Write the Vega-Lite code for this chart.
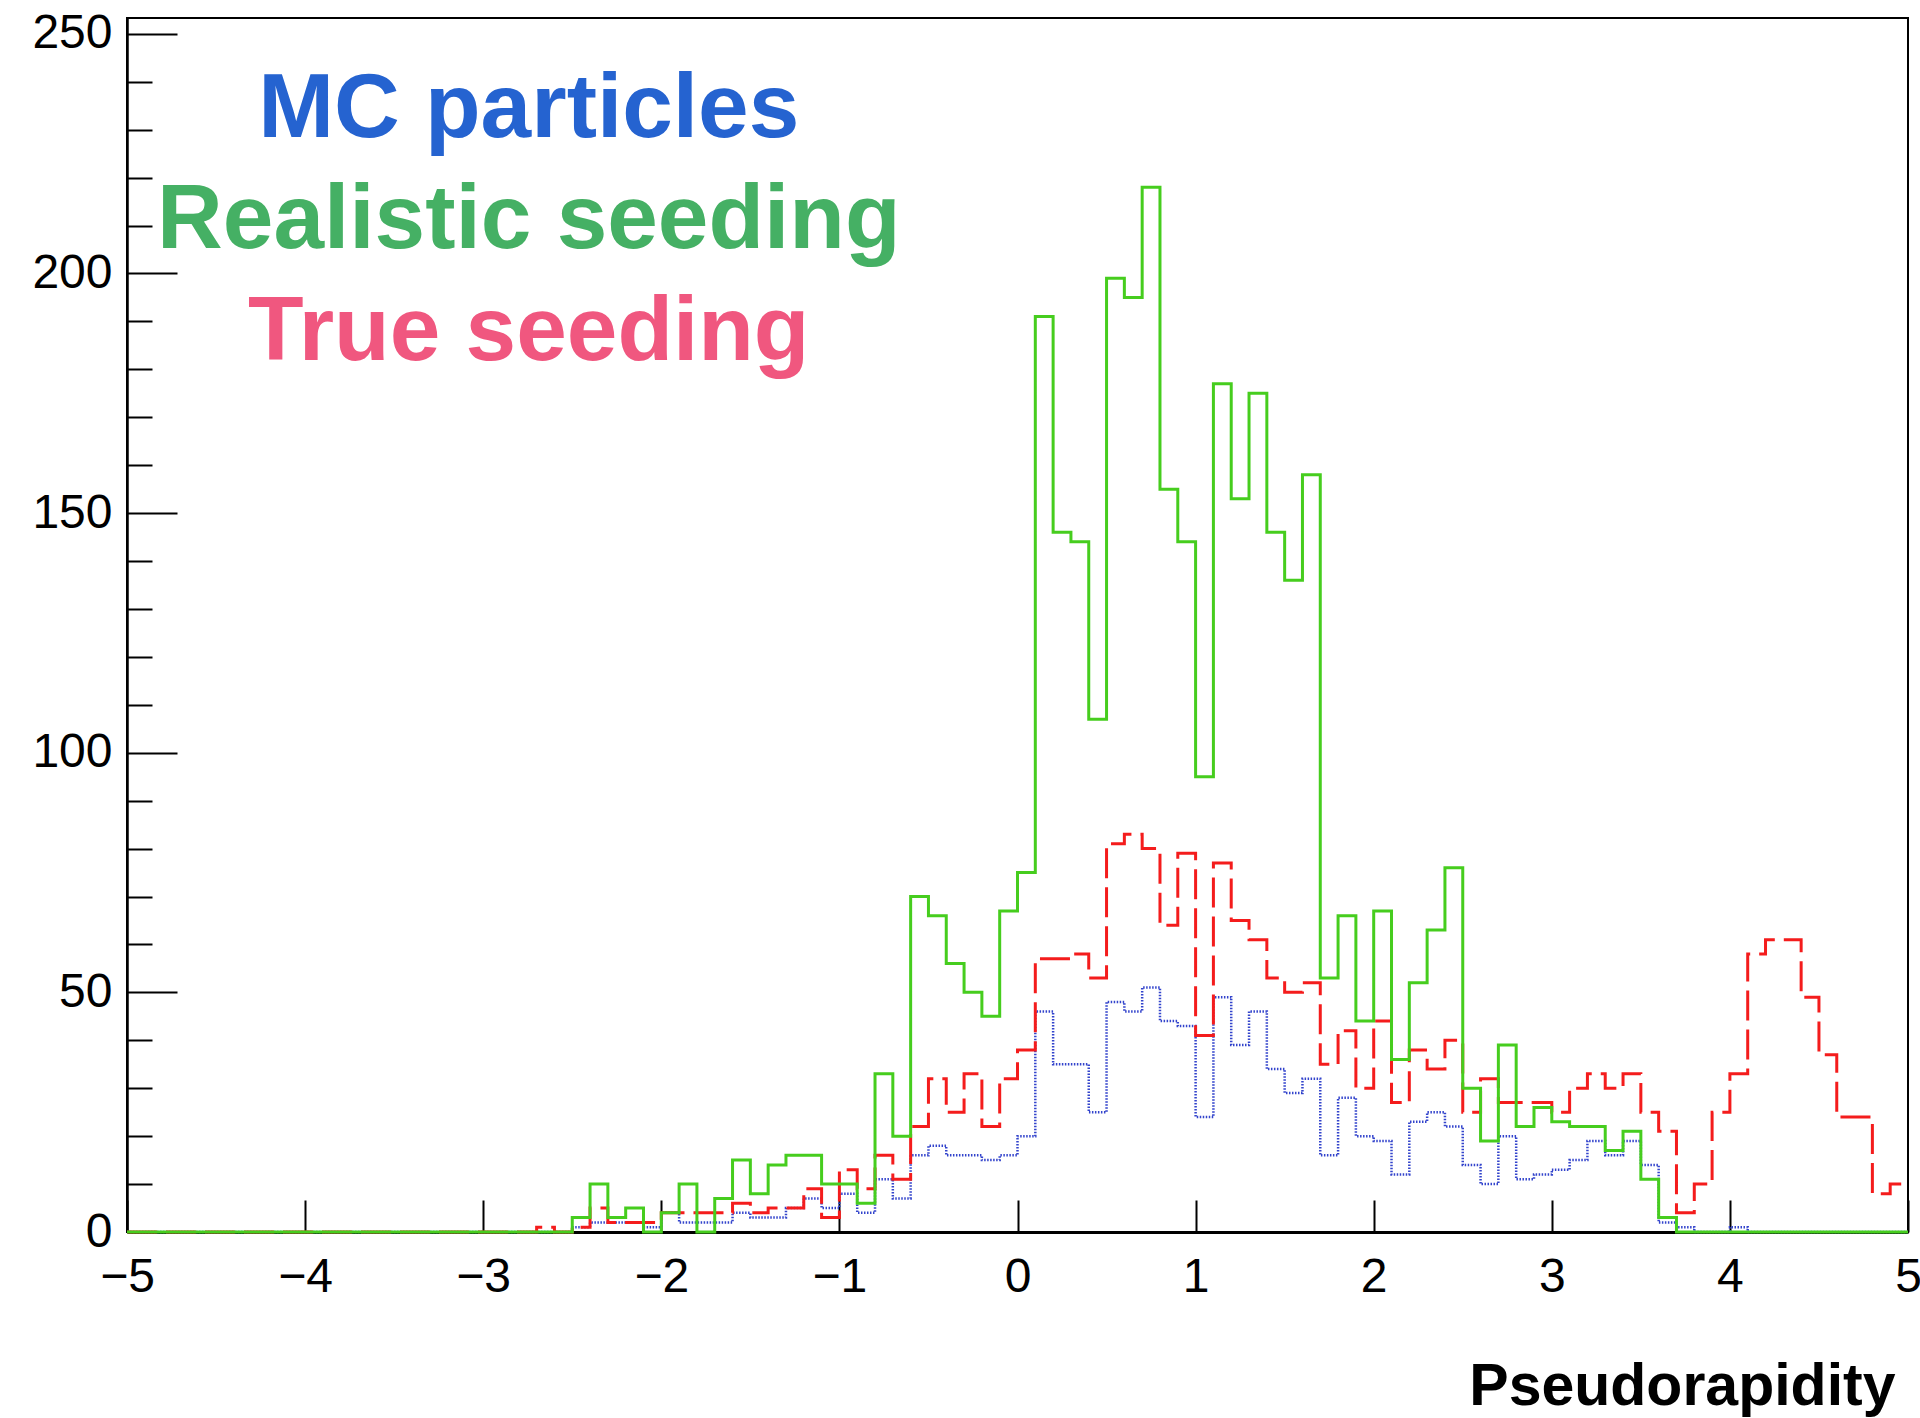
{
  "$schema": "https://vega.github.io/schema/vega-lite/v6.json",
  "width": 1781,
  "height": 1214,
  "autosize": {"type": "none"},
  "padding": {"left": 127, "top": 18, "right": 12, "bottom": 186},
  "background": "white",
  "config": {
    "view": {"stroke": "black", "strokeWidth": 2},
    "font": "Liberation Sans"
  },
  "data": {
    "values": [
      {"eta": -5.0, "mc": 0, "realistic": 0, "truth": 0},
      {"eta": -4.9, "mc": 0, "realistic": 0, "truth": 0},
      {"eta": -4.8, "mc": 0, "realistic": 0, "truth": 0},
      {"eta": -4.7, "mc": 0, "realistic": 0, "truth": 0},
      {"eta": -4.6, "mc": 0, "realistic": 0, "truth": 0},
      {"eta": -4.5, "mc": 0, "realistic": 0, "truth": 0},
      {"eta": -4.4, "mc": 0, "realistic": 0, "truth": 0},
      {"eta": -4.3, "mc": 0, "realistic": 0, "truth": 0},
      {"eta": -4.2, "mc": 0, "realistic": 0, "truth": 0},
      {"eta": -4.1, "mc": 0, "realistic": 0, "truth": 0},
      {"eta": -4.0, "mc": 0, "realistic": 0, "truth": 0},
      {"eta": -3.9, "mc": 0, "realistic": 0, "truth": 0},
      {"eta": -3.8, "mc": 0, "realistic": 0, "truth": 0},
      {"eta": -3.7, "mc": 0, "realistic": 0, "truth": 0},
      {"eta": -3.6, "mc": 0, "realistic": 0, "truth": 0},
      {"eta": -3.5, "mc": 0, "realistic": 0, "truth": 0},
      {"eta": -3.4, "mc": 0, "realistic": 0, "truth": 0},
      {"eta": -3.3, "mc": 0, "realistic": 0, "truth": 0},
      {"eta": -3.2, "mc": 0, "realistic": 0, "truth": 0},
      {"eta": -3.1, "mc": 0, "realistic": 0, "truth": 0},
      {"eta": -3.0, "mc": 0, "realistic": 0, "truth": 0},
      {"eta": -2.9, "mc": 0, "realistic": 0, "truth": 0},
      {"eta": -2.8, "mc": 0, "realistic": 0, "truth": 0},
      {"eta": -2.7, "mc": 0, "realistic": 0, "truth": 1},
      {"eta": -2.6, "mc": 0, "realistic": 0, "truth": 0},
      {"eta": -2.5, "mc": 1, "realistic": 3, "truth": 1},
      {"eta": -2.4, "mc": 2, "realistic": 10, "truth": 5},
      {"eta": -2.3, "mc": 2, "realistic": 3, "truth": 2},
      {"eta": -2.2, "mc": 2, "realistic": 5, "truth": 2},
      {"eta": -2.1, "mc": 1, "realistic": 0, "truth": 2},
      {"eta": -2.0, "mc": 4, "realistic": 4, "truth": 4},
      {"eta": -1.9, "mc": 2, "realistic": 10, "truth": 4},
      {"eta": -1.8, "mc": 2, "realistic": 0, "truth": 4},
      {"eta": -1.7, "mc": 2, "realistic": 7, "truth": 4},
      {"eta": -1.6, "mc": 4, "realistic": 15, "truth": 6},
      {"eta": -1.5, "mc": 3, "realistic": 8, "truth": 4},
      {"eta": -1.4, "mc": 3, "realistic": 14, "truth": 5},
      {"eta": -1.3, "mc": 5, "realistic": 16, "truth": 5},
      {"eta": -1.2, "mc": 7, "realistic": 16, "truth": 9},
      {"eta": -1.1, "mc": 5, "realistic": 10, "truth": 3},
      {"eta": -1.0, "mc": 8, "realistic": 10, "truth": 13},
      {"eta": -0.9, "mc": 4, "realistic": 6, "truth": 9},
      {"eta": -0.8, "mc": 11, "realistic": 33, "truth": 16},
      {"eta": -0.7, "mc": 7, "realistic": 20, "truth": 11},
      {"eta": -0.6, "mc": 16, "realistic": 70, "truth": 22},
      {"eta": -0.5, "mc": 18, "realistic": 66, "truth": 32},
      {"eta": -0.4, "mc": 16, "realistic": 56, "truth": 25},
      {"eta": -0.3, "mc": 16, "realistic": 50, "truth": 33},
      {"eta": -0.2, "mc": 15, "realistic": 45, "truth": 22},
      {"eta": -0.1, "mc": 16, "realistic": 67, "truth": 32},
      {"eta": 0.0, "mc": 20, "realistic": 75, "truth": 38},
      {"eta": 0.1, "mc": 46, "realistic": 191, "truth": 57},
      {"eta": 0.2, "mc": 35, "realistic": 146, "truth": 57},
      {"eta": 0.3, "mc": 35, "realistic": 144, "truth": 58},
      {"eta": 0.4, "mc": 25, "realistic": 107, "truth": 53},
      {"eta": 0.5, "mc": 48, "realistic": 199, "truth": 81},
      {"eta": 0.6, "mc": 46, "realistic": 195, "truth": 83},
      {"eta": 0.7, "mc": 51, "realistic": 218, "truth": 80},
      {"eta": 0.8, "mc": 44, "realistic": 155, "truth": 64},
      {"eta": 0.9, "mc": 43, "realistic": 144, "truth": 79},
      {"eta": 1.0, "mc": 24, "realistic": 95, "truth": 41},
      {"eta": 1.1, "mc": 49, "realistic": 177, "truth": 77},
      {"eta": 1.2, "mc": 39, "realistic": 153, "truth": 65},
      {"eta": 1.3, "mc": 46, "realistic": 175, "truth": 61},
      {"eta": 1.4, "mc": 34, "realistic": 146, "truth": 53},
      {"eta": 1.5, "mc": 29, "realistic": 136, "truth": 50},
      {"eta": 1.6, "mc": 32, "realistic": 158, "truth": 52},
      {"eta": 1.7, "mc": 16, "realistic": 53, "truth": 35},
      {"eta": 1.8, "mc": 28, "realistic": 66, "truth": 42},
      {"eta": 1.9, "mc": 20, "realistic": 44, "truth": 30},
      {"eta": 2.0, "mc": 19, "realistic": 67, "truth": 44},
      {"eta": 2.1, "mc": 12, "realistic": 36, "truth": 27},
      {"eta": 2.2, "mc": 23, "realistic": 52, "truth": 38},
      {"eta": 2.3, "mc": 25, "realistic": 63, "truth": 34},
      {"eta": 2.4, "mc": 22, "realistic": 76, "truth": 40},
      {"eta": 2.5, "mc": 14, "realistic": 30, "truth": 25},
      {"eta": 2.6, "mc": 10, "realistic": 19, "truth": 32},
      {"eta": 2.7, "mc": 20, "realistic": 39, "truth": 27},
      {"eta": 2.8, "mc": 11, "realistic": 22, "truth": 27},
      {"eta": 2.9, "mc": 12, "realistic": 26, "truth": 27},
      {"eta": 3.0, "mc": 13, "realistic": 23, "truth": 25},
      {"eta": 3.1, "mc": 15, "realistic": 22, "truth": 30},
      {"eta": 3.2, "mc": 19, "realistic": 22, "truth": 33},
      {"eta": 3.3, "mc": 16, "realistic": 17, "truth": 30},
      {"eta": 3.4, "mc": 19, "realistic": 21, "truth": 33},
      {"eta": 3.5, "mc": 14, "realistic": 11, "truth": 25},
      {"eta": 3.6, "mc": 2, "realistic": 3, "truth": 21},
      {"eta": 3.7, "mc": 1, "realistic": 0, "truth": 4},
      {"eta": 3.8, "mc": 0, "realistic": 0, "truth": 10},
      {"eta": 3.9, "mc": 0, "realistic": 0, "truth": 25},
      {"eta": 4.0, "mc": 1, "realistic": 0, "truth": 33},
      {"eta": 4.1, "mc": 0, "realistic": 0, "truth": 58},
      {"eta": 4.2, "mc": 0, "realistic": 0, "truth": 61},
      {"eta": 4.3, "mc": 0, "realistic": 0, "truth": 61},
      {"eta": 4.4, "mc": 0, "realistic": 0, "truth": 49},
      {"eta": 4.5, "mc": 0, "realistic": 0, "truth": 37},
      {"eta": 4.6, "mc": 0, "realistic": 0, "truth": 24},
      {"eta": 4.7, "mc": 0, "realistic": 0, "truth": 24},
      {"eta": 4.8, "mc": 0, "realistic": 0, "truth": 8},
      {"eta": 4.9, "mc": 0, "realistic": 0, "truth": 10},
      {"eta": 5.0, "mc": 0, "realistic": 0, "truth": 10}
    ]
  },
  "encoding": {
    "x": {
      "field": "eta",
      "type": "quantitative",
      "scale": {"domain": [-5, 5], "nice": false, "zero": false},
      "axis": {
        "tickCount": 50,
        "format": "d",
        "labelExpr": "abs(datum.value - round(datum.value)) < 0.001 ? datum.label : ''",
        "tickSize": {"condition": {"test": "abs(datum.value - round(datum.value)) < 0.001", "value": -32}, "value": -16},
        "tickColor": "black",
        "tickWidth": 2,
        "domainColor": "black",
        "domainWidth": 3,
        "grid": false,
        "labelFont": "Liberation Sans",
        "labelFontSize": 48,
        "labelColor": "black",
        "labelPadding": 53,
        "labelFlush": false,
        "labelOverlap": false,
        "title": "Pseudorapidity",
        "titleFont": "Liberation Sans",
        "titleFontSize": 59,
        "titleFontWeight": "bold",
        "titleColor": "black",
        "titleAlign": "right",
        "titleAnchor": "end",
        "titleBaseline": "alphabetic",
        "titleX": 1768,
        "titleY": 172
      }
    }
  },
  "layer": [
    {
      "mark": {"type": "line", "interpolate": "step-after", "color": "#3344cc", "strokeWidth": 2.5, "strokeDash": [1.5, 1.5]},
      "encoding": {
        "y": {
          "field": "mc",
          "type": "quantitative",
          "scale": {"domain": [0, 253.3], "nice": false, "zero": true},
          "axis": {
            "values": [0, 10, 20, 30, 40, 50, 60, 70, 80, 90, 100, 110, 120, 130, 140, 150, 160, 170, 180, 190, 200, 210, 220, 230, 240, 250],
            "tickCount": 200,
            "labelExpr": "datum.value % 50 === 0 ? datum.label : ''",
            "tickSize": {"condition": {"test": "datum.value % 50 === 0", "value": -50}, "value": -25},
            "tickColor": "black",
            "tickWidth": 2,
            "domainColor": "black",
            "domainWidth": 2.5,
            "grid": false,
            "labelFont": "Liberation Sans",
            "labelFontSize": 48,
            "labelColor": "black",
            "labelPadding": 65,
            "labelFlush": false,
            "labelOverlap": false,
            "title": null
          }
        }
      }
    },
    {
      "mark": {"type": "line", "interpolate": "step-after", "color": "#f41c1c", "strokeWidth": 3, "strokeDash": [30, 9]},
      "encoding": {
        "y": {"field": "truth", "type": "quantitative", "title": null}
      }
    },
    {
      "mark": {"type": "line", "interpolate": "step-after", "color": "#46cd1e", "strokeWidth": 3},
      "encoding": {
        "y": {"field": "realistic", "type": "quantitative", "title": null}
      }
    },
    {
      "data": {"values": [{"label": "MC particles", "eta": -2.744, "count": 228.4}, {"label": "Realistic seeding", "eta": -2.744, "count": 205.3}, {"label": "True seeding", "eta": -2.744, "count": 181.9}]},
      "mark": {"type": "text", "font": "Liberation Sans", "fontWeight": "bold", "fontSize": 91, "align": "center", "baseline": "alphabetic"},
      "encoding": {
        "y": {"field": "count", "type": "quantitative", "title": null},
        "text": {"field": "label"},
        "color": {
          "field": "label",
          "type": "nominal",
          "scale": {"domain": ["MC particles", "Realistic seeding", "True seeding"], "range": ["#2563d0", "#45b064", "#f0577f"]},
          "legend": null
        }
      }
    }
  ]
}
